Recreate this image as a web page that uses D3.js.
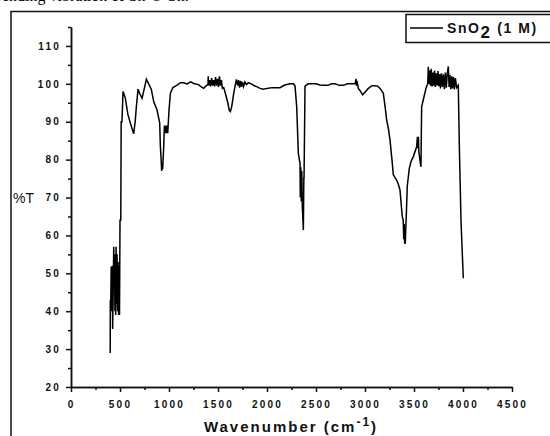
<!DOCTYPE html>
<html>
<head>
<meta charset="utf-8">
<script src="https://cdn.jsdelivr.net/npm/d3@7"></script>
<style>
  body { margin: 0; background: #fff; }
  svg { display: block; }
  .tick text { font-family: Arial, "Liberation Sans", sans-serif; font-weight: bold; font-size: 10px; letter-spacing: 2.2px; fill: #111; }
</style>
</head>
<body>
<svg id="chart" width="550" height="436"></svg>
<script>
// IR spectrum, SnO2 (1 M): wavenumber (cm-1) and transmittance (%T)
const wavenumber = [
  400, 401, 404, 405, 410, 415, 420, 425, 430, 436, 440, 444, 448, 452, 456, 460, 466, 470, 475, 480,
  486, 490, 495, 500, 508, 512, 520, 531, 554, 580, 605, 639, 655, 667, 684, 700, 725, 750, 769, 793,
  820, 844, 878, 905, 912, 920, 925, 929, 935, 946, 953, 960, 965, 970, 975, 980, 987, 1000, 1014, 1040,
  1065, 1090, 1116, 1150, 1184, 1220, 1252, 1300, 1330, 1354, 1388, 1398, 1400, 1405, 1415, 1425, 1435, 1445, 1455, 1465,
  1475, 1485, 1495, 1505, 1515, 1525, 1535, 1545, 1558, 1575, 1600, 1615, 1626, 1640, 1660, 1688, 1700, 1710, 1720, 1730,
  1740, 1750, 1760, 1775, 1790, 1810, 1840, 1870, 1900, 1930, 1962, 2000, 2050, 2100, 2133, 2180, 2235, 2270, 2286, 2303,
  2320, 2337, 2340, 2345, 2350, 2355, 2360, 2371, 2376, 2378, 2388, 2420, 2455, 2500, 2540, 2574, 2620, 2660, 2694, 2740,
  2779, 2820, 2864, 2900, 2908, 2914, 2918, 2932, 2955, 2976, 3000, 3034, 3070, 3102, 3130, 3153, 3187, 3205, 3221, 3240,
  3255, 3275, 3289, 3323, 3340, 3357, 3380, 3390, 3395, 3400, 3405, 3411, 3425, 3431, 3452, 3470, 3493, 3527, 3535, 3540,
  3545, 3550, 3560, 3571, 3578, 3595, 3622, 3640, 3646, 3652, 3660, 3668, 3676, 3684, 3692, 3700, 3710, 3718, 3726, 3735,
  3745, 3753, 3762, 3770, 3780, 3790, 3800, 3810, 3820, 3830, 3840, 3850, 3858, 3866, 3875, 3885, 3893, 3902, 3912, 3922,
  3935, 3952, 3963, 3980, 4003
];
const transmittance = [
  29, 42.5, 43, 40, 51.7, 40, 52, 35.3, 44, 57, 46, 55, 40, 54, 39, 57, 42, 55, 40, 53,
  39, 52, 39, 64, 64, 90, 90, 98, 96.3, 92, 89.7, 86.8, 90, 94, 98.6, 97.5, 96.2, 99, 101.2, 100,
  98.5, 95.3, 93.1, 89.7, 83.4, 80, 77, 78, 77.5, 83.4, 89, 88, 87, 89, 87, 89, 87, 93, 97.5, 99,
  99.4, 99.8, 100.3, 100.3, 100, 100.5, 100.1, 99.8, 99.2, 98.8, 99.7, 99.7, 102, 99.5, 101, 99.3, 101.5, 99.5, 101, 99.3,
  101.8, 99.5, 101.3, 99.2, 102, 99.5, 101, 98.8, 99, 97.5, 95, 93, 92.7, 94, 97.5, 101.2, 99.5, 101, 99, 100.8,
  99.2, 100.5, 99.3, 100.5, 99.8, 100.3, 100, 99.5, 99.2, 98.8, 98.6, 98.8, 99, 99, 99, 99.7, 100, 100, 99.4, 94,
  81.6, 79, 70, 78, 69, 77, 68, 61.4, 75.2, 75.2, 99.4, 100, 100, 100, 99.7, 99.6, 99.6, 100, 100, 99.6,
  99.6, 100, 100, 100, 101.3, 99.5, 100.8, 98.8, 98, 97.1, 97.8, 98.8, 99.5, 99.5, 99.4, 98.8, 97.5, 94, 90.5, 88,
  85.2, 80, 76, 74.6, 73.5, 72, 65, 64, 59, 63, 58, 58, 68, 72.9, 77.7, 79.5, 80.8, 83.4, 86, 83,
  86, 82, 80, 78.1, 94, 95.8, 98.8, 100, 104.5, 100, 103.5, 99.5, 104, 99.3, 103, 99.5, 103.5, 99.2, 102.8, 99.6,
  103.4, 99.4, 102.6, 98.8, 102.8, 99.2, 102.5, 98.6, 103, 99, 102.8, 104.6, 99.2, 102.4, 98.6, 102, 98.8, 101.8, 98.5, 101.5,
  99, 99.6, 83, 63.6, 48.7
];
const xMajorTicks = d3.range(0, 4501, 500);
const xMinorTicks = d3.range(250, 4500, 500);
const yMajorTicks = d3.range(20, 111, 10);
const yMinorTicks = d3.range(25, 116, 10);
const seriesName = "SnO";

const svg = d3.select("#chart");
const margin = { left: 71, top: 27, right: 38, bottom: 49 };
const width = 550 - margin.left - margin.right,
      height = 436 - margin.top - margin.bottom;

// cropped caption line from the page above the figure
svg.append("text")
  .attr("x", -6).attr("y", 1)
  .attr("font-family", "'Liberation Serif', 'Times New Roman', serif")
  .attr("font-size", 16)
  .text("bending vibration of Sn-O-Sn.");

// outer figure frame (runs off the right and bottom edges)
svg.append("path")
  .attr("d", "M11,440 L11,11.5 L560,11.5")
  .attr("fill", "none")
  .attr("stroke", "#111")
  .attr("stroke-width", 1.5);

const g = svg.append("g").attr("transform", `translate(${margin.left},${margin.top})`);

const x = d3.scaleLinear().domain([0, 4500]).range([0, width]);
const y = d3.scaleLinear().domain([20, 115]).range([height, 0]);

function styleAxis(sel) {
  sel.select(".domain").attr("stroke", "#111").attr("stroke-width", 1.5);
  sel.selectAll(".tick line").attr("stroke", "#111").attr("stroke-width", 1.5);
}

g.append("g").attr("transform", `translate(0,${height})`)
  .call(d3.axisBottom(x).tickValues(xMinorTicks).tickSize(3).tickSizeOuter(0).tickFormat(""))
  .call(styleAxis);
g.append("g").attr("transform", `translate(0,${height})`)
  .call(d3.axisBottom(x).tickValues(xMajorTicks).tickSize(5).tickSizeOuter(0).tickPadding(9).tickFormat(d3.format("d")))
  .call(styleAxis);

g.append("g")
  .call(d3.axisLeft(y).tickValues(yMinorTicks).tickSize(3).tickSizeOuter(0).tickFormat(""))
  .call(styleAxis);
g.append("g")
  .call(d3.axisLeft(y).tickValues(yMajorTicks).tickSize(5).tickSizeOuter(0).tickPadding(5).tickFormat(d3.format("d")))
  .call(styleAxis);

// axis titles
const xt = svg.append("text")
  .attr("x", margin.left + x(2245)).attr("y", 432)
  .attr("text-anchor", "middle")
  .attr("font-family", "Arial, 'Liberation Sans', sans-serif")
  .attr("font-weight", "bold")
  .attr("font-size", 15)
  .attr("letter-spacing", "2px")
  .attr("fill", "#111");
xt.append("tspan").text("Wavenumber (cm");
xt.append("tspan").attr("dy", -6).attr("font-size", 12).text("-1");
xt.append("tspan").attr("dy", 6).text(")");

svg.append("text")
  .attr("x", 13).attr("y", margin.top + y(70) + 5)
  .attr("font-family", "Arial, 'Liberation Sans', sans-serif")
  .attr("font-size", 14)
  .attr("fill", "#111")
  .text("%T");

// spectrum
const points = wavenumber.map((w, i) => [w, transmittance[i]]);
g.append("path")
  .datum(points)
  .attr("fill", "none")
  .attr("stroke", "#000")
  .attr("stroke-width", 1.5)
  .attr("stroke-linejoin", "miter")
  .attr("d", d3.line().x(d => x(d[0])).y(d => y(d[1])));

// legend
const lg = svg.append("g");
lg.append("rect")
  .attr("x", 406).attr("y", 14.5)
  .attr("width", 200).attr("height", 28)
  .attr("fill", "#fff").attr("stroke", "#111").attr("stroke-width", 1.5);
lg.append("line")
  .attr("x1", 410).attr("x2", 443).attr("y1", 28).attr("y2", 28)
  .attr("stroke", "#000").attr("stroke-width", 1.5);
const lt = lg.append("text")
  .attr("x", 447).attr("y", 33)
  .attr("font-family", "Arial, 'Liberation Sans', sans-serif")
  .attr("font-weight", "bold")
  .attr("font-size", 14)
  .attr("letter-spacing", "1.6px")
  .attr("fill", "#111");
lt.append("tspan").text(seriesName);
lt.append("tspan").attr("dy", 5).attr("font-size", 17).text("2");
lt.append("tspan").attr("dy", -5).text(" (1 M)");
</script>
</body>
</html>
